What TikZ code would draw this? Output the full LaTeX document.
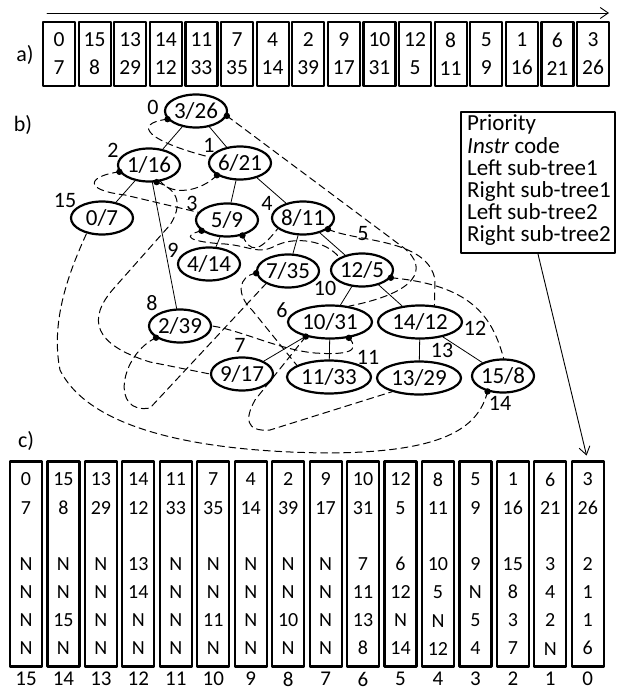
\documentclass[tikz,border=0pt]{standalone}
\usepackage{fontspec}
\setmainfont{Carlito}
\usetikzlibrary{shapes.geometric,arrows.meta}

\begin{document}
\begin{tikzpicture}[x=1pt,y=-1pt,line cap=round,line join=round,
  nd/.style={ellipse,draw,line width=2.2pt,inner sep=0pt,minimum width=62pt,minimum height=33pt,font=\fontsize{23}{23}\selectfont},
  ndw/.style={nd,minimum width=84pt},
  ord/.style={inner sep=0pt,font=\fontsize{22}{22}\selectfont},
  lbl/.style={inner sep=0pt,font=\fontsize{22}{22}\selectfont},
  idx/.style={inner sep=0pt,font=\fontsize{21}{21}\selectfont},
  keytxt/.style={inner sep=0pt,font=\fontsize{23}{23}\selectfont},
  tree1/.style={line width=0.8pt},
  tree2/.style={line width=1pt,dash pattern=on 7pt off 4.5pt},
  abox/.style={draw,line width=2.2pt,minimum width=32pt,minimum height=64pt,inner sep=0pt,align=center,font=\fontsize{21.5}{28}\selectfont},
  cbox/.style={draw,line width=2.2pt,minimum width=32pt,minimum height=205pt,inner sep=0pt,align=center,font=\fontsize{20}{28.3}\selectfont},
  keybox/.style={draw,line width=2.2pt,minimum width=154pt,minimum height=141pt},
  arr/.style={line width=0.9pt,-{Straight Barb[length=8pt,width=11pt]}}]
  \useasboundingbox (0,0) rectangle (619,692);

  \coordinate (s) at (47,13);
  \coordinate (e) at (609,13);
  \draw[arr] (s) -- (e);
  \node[lbl] (la) at (25,55) {a)};
  \foreach \p/\c [count=\i from 0] in {0/7,15/8,13/29,14/12,11/33,7/35,4/14,2/39,9/17,10/31,12/5,8/11,5/9,1/16,6/21,3/26}
    \node[abox] (a\i) at ({59+35.6*\i},54) {\p\\\c};

  \node[lbl] (lb) at (23,125) {b)};
  \node[nd] (n0) at (196,111) {3/26};
  \node[nd] (n1) at (240,163) {6/21};
  \node[nd] (n2) at (149,165) {1/16};
  \node[nd] (n3) at (227,220) {5/9};
  \node[nd] (n4) at (303,218) {8/11};
  \node[nd] (n5) at (362,270) {12/5};
  \node[ndw] (n6) at (330,322) {10/31};
  \node[nd] (n7) at (242,374) {9/17};
  \node[nd] (n8) at (180,326) {2/39};
  \node[nd] (n9) at (209,264) {4/14};
  \node[nd] (n10) at (288,271) {7/35};
  \node[ndw] (n11) at (329,377) {11/33};
  \node[ndw] (n12) at (420,322) {14/12};
  \node[ndw] (n13) at (419,378) {13/29};
  \node[nd] (n14) at (503,376) {15/8};
  \node[nd] (n15) at (102,218) {0/7};

  \node[ord] (o0) at (153,107) {0};
  \node[ord] (o1) at (209,145) {1};
  \node[ord] (o2) at (113,150) {2};
  \node[ord] (o3) at (192,203) {3};
  \node[ord] (o4) at (267,203) {4};
  \node[ord] (o5) at (363,234) {5};
  \node[ord] (o6) at (282,310) {6};
  \node[ord] (o7) at (240,345) {7};
  \node[ord] (o8) at (152,303) {8};
  \node[ord] (o9) at (173,250) {9};
  \node[ord] (o10) at (325,288) {10};
  \node[ord] (o11) at (368,357) {11};
  \node[ord] (o12) at (475,328) {12};
  \node[ord] (o13) at (442,350) {13};
  \node[ord] (o14) at (500,403) {14};
  \node[ord] (o15) at (65,200) {15};

  \foreach \u/\v in {n0/n2,n0/n1,n1/n3,n1/n4,n2/n15,n2/n8,n3/n9,n4/n10,n4/n5,n5/n6,n5/n12,n6/n7,n6/n11,n12/n13,n12/n14}
    \draw[tree1] (\u) -- (\v);

  \draw[tree2] (n0.196) .. controls (130,124) and (150,142) .. (n1.169);
  \draw[tree2] (n0.351) -- (400,245) .. controls (425,262) and (430,290) .. (n6.40);
  \draw[tree2] (n1.208) .. controls (200,192) and (172,196) .. (n2.305);
  \draw[tree2] (n2.193) .. controls (88,176) and (82,190) .. (125,195) -- (n3.165);
  \draw[tree2] (n2.294) .. controls (180,190) and (182,206) .. (170,225) -- (115,287) .. controls (85,320) and (95,345) .. (150,362) -- (n7.west);
  \draw[tree2] (n3.203) .. controls (180,236) and (190,242) .. (225,244) .. controls (250,246) and (258,255) .. (275,246) .. controls (295,236) and (325,240) .. (n5.151);
  \draw[tree2] (n3.315) .. controls (250,252) and (258,254) .. (n4.203);
  \draw[tree2] (n4.336) .. controls (355,242) and (428,238) .. (435,280) -- (n12.49);
  \draw[tree2] (n5.345) .. controls (470,285) and (492,315) .. (n14.88);
  \draw[tree2] (n10.184) .. controls (238,276) and (236,295) .. (252,310) -- (n11.160);
  \draw[tree2] (n8.206) .. controls (120,355) and (110,415) .. (150,408) -- (n10.210);
  \draw[tree2] (n6.211) -- (255,400) .. controls (245,418) and (245,432) .. (270,430) -- (n13.207);
  \draw[tree2] (n6.320) .. controls (362,352) and (345,355) .. (315,353) .. controls (280,350) and (240,330) .. (n8.east);
  \draw[tree2] (n14.225) .. controls (478,430) and (440,452) .. (330,453) .. controls (200,452) and (90,430) .. (60,370) .. controls (50,320) and (70,270) .. (n15.225);
  \foreach \d in {n0.196,n0.351,n1.208,n2.193,n2.294,n3.203,n3.315,n4.336,n5.345,n10.184,n8.206,n6.211,n6.320,n14.225}
    \fill (\d) circle (3.2);

  \node[keybox] (key) at (538,182.5) {};
  \foreach \t [count=\j from 0] in {Priority,\textit{Instr} code,Left sub-tree1,Right sub-tree1,Left sub-tree2,Right sub-tree2}
    \node[keytxt,anchor=base west] (k\j) at (467,{131+22.2*\j}) {\t};

  \node[lbl] (lc) at (26,441) {c)};
  \foreach \p/\c/\la/\ra/\lb/\rb [count=\i from 0] in {0/7/N/N/N/N,15/8/N/N/15/N,13/29/N/N/N/N,14/12/13/14/N/N,11/33/N/N/N/N,7/35/N/N/11/N,4/14/N/N/N/N,2/39/N/N/10/N,9/17/N/N/N/N,10/31/7/11/13/8,12/5/6/12/N/14,8/11/10/5/N/12,5/9/9/N/5/4,1/16/15/8/3/7,6/21/3/4/2/N,3/26/2/1/1/6} {
    \pgfmathtruncatemacro\k{15-\i}
    \node[cbox] (c\k) at ({26+37.45*\i},564) {\p\\\c\\[27.5pt]\la\\\ra\\\lb\\\rb};
    \node[idx] (i\k) at ({26+37.45*\i},679) {\k};
  }
  \draw[arr,shorten >=5pt] (key.south) -- (c0.north);
\end{tikzpicture}
\end{document}
